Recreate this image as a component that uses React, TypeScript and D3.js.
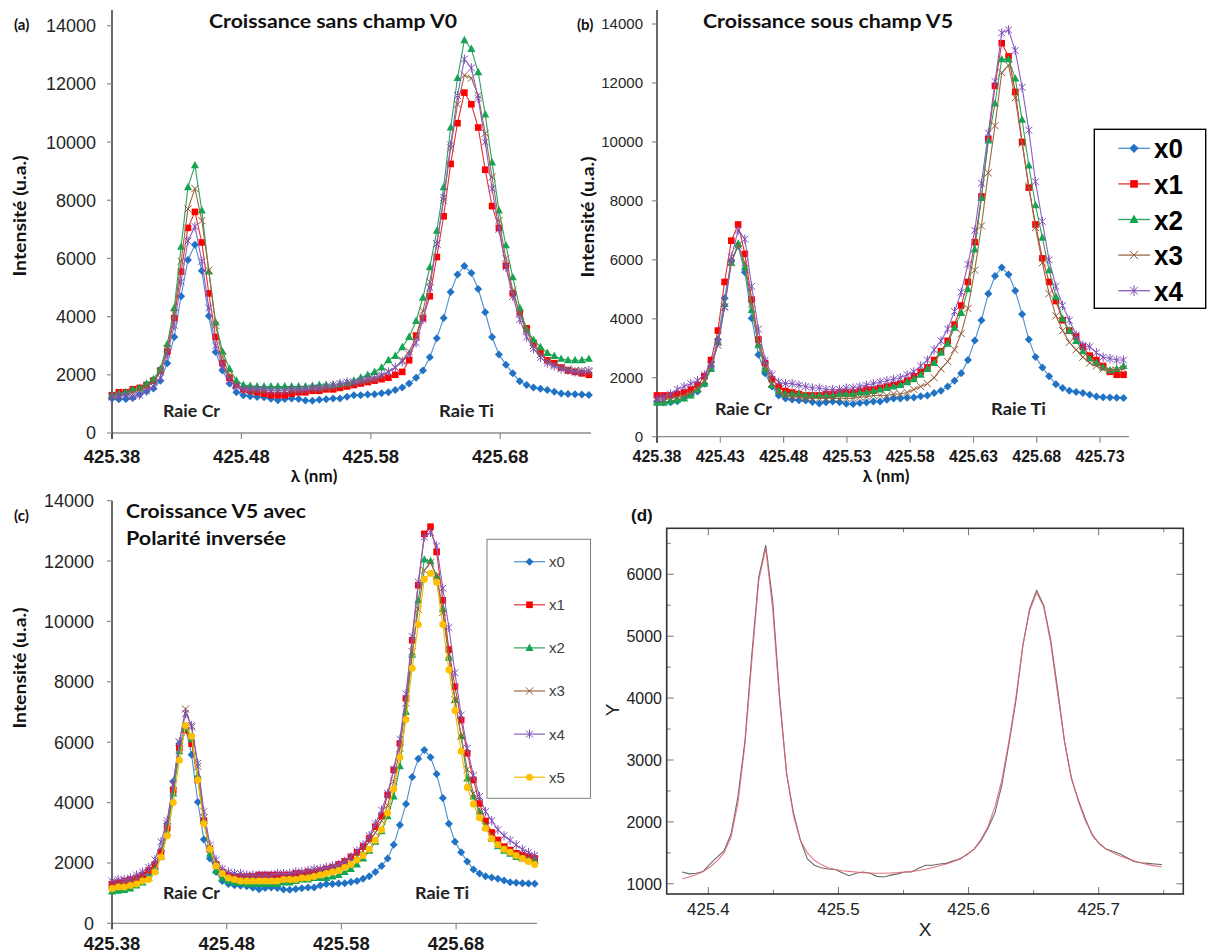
import React from 'react';
import * as d3 from 'd3';

// ---------- DATA ----------
const WAVELENGTH = [
  425.3800, 425.3853, 425.3907, 425.3960, 425.4014, 425.4067, 425.4120, 425.4174, 425.4227, 425.4281,
  425.4334, 425.4387, 425.4441, 425.4494, 425.4548, 425.4601, 425.4654, 425.4708, 425.4761, 425.4815,
  425.4868, 425.4921, 425.4975, 425.5028, 425.5082, 425.5135, 425.5188, 425.5242, 425.5295, 425.5349,
  425.5402, 425.5455, 425.5509, 425.5562, 425.5616, 425.5669, 425.5722, 425.5776, 425.5829, 425.5883,
  425.5936, 425.5989, 425.6043, 425.6096, 425.6150, 425.6203, 425.6256, 425.6310, 425.6363, 425.6417,
  425.6470, 425.6523, 425.6577, 425.6630, 425.6684, 425.6737, 425.6790, 425.6844, 425.6897, 425.6951,
  425.7004, 425.7057, 425.7111, 425.7164, 425.7218, 425.7271, 425.7324, 425.7378, 425.7431, 425.7485,
];

// reference spectrum x0 (same in every panel, also the measured curve of panel d)
const X0 = [
  1190, 1160, 1170, 1200, 1320, 1430, 1530, 1800, 2400, 3300,
  4700, 5950, 6470, 5580, 4020, 2780, 2150, 1700, 1400, 1300,
  1260, 1240, 1230, 1180, 1130, 1170, 1190, 1170, 1120, 1110,
  1140, 1160, 1190, 1190, 1250, 1300, 1300, 1320, 1330, 1370,
  1400, 1480, 1560, 1700, 1900, 2150, 2600, 3260, 3950, 4850,
  5450, 5740, 5500, 4950, 4150, 3300, 2700, 2350, 2050, 1780,
  1650, 1560, 1520, 1480, 1420, 1360, 1340, 1330, 1320, 1310,
];

// panel (a) Croissance sans champ V0
const A_X1 = [
  1300, 1400, 1400, 1500, 1550, 1650, 1800, 2150, 2800, 3950,
  5550, 7050, 7600, 6550, 4800, 3300, 2400, 1900, 1650, 1500,
  1450, 1400, 1350, 1300, 1300, 1300, 1350, 1400, 1400, 1450,
  1450, 1500, 1500, 1550, 1600, 1650, 1700, 1750, 1800, 1850,
  1900, 2000, 2100, 2500, 3350, 3950, 4700, 6050, 7450, 9250,
  10650, 11700, 11300, 10500, 9050, 7800, 7050, 5750, 4800, 4150,
  3600, 3100, 2800, 2500, 2400, 2250, 2150, 2100, 2050, 2000,
];
const A_X2 = [
  1300, 1350, 1400, 1500, 1550, 1700, 1850, 2200, 3050, 4300,
  6400, 8450, 9200, 7650, 5550, 3800, 2800, 2200, 1800, 1650,
  1620, 1600, 1600, 1600, 1600, 1600, 1600, 1600, 1600, 1620,
  1650, 1650, 1650, 1680, 1720, 1800, 1900, 2000, 2100, 2250,
  2500, 2650, 2950, 3300, 3850, 4650, 5700, 6950, 8450, 10500,
  12200, 13500, 13200, 12400, 10950, 9300, 7650, 6450, 5350, 4300,
  3550, 3200, 2950, 2750, 2650, 2550, 2500, 2500, 2500, 2550,
];
const A_X3 = [
  1250, 1300, 1300, 1400, 1500, 1600, 1750, 2100, 2900, 4100,
  5900, 7700, 8400, 7300, 5600, 3700, 2600, 2000, 1650, 1500,
  1450, 1450, 1450, 1450, 1450, 1450, 1450, 1450, 1500, 1500,
  1500, 1550, 1550, 1600, 1650, 1700, 1750, 1800, 1850, 1950,
  2100, 2250, 2500, 2800, 3300, 4200, 5200, 6500, 8000, 9800,
  11300, 12300, 12200, 11600, 10300, 8800, 7300, 6000, 4900, 4100,
  3500, 3000, 2700, 2500, 2350, 2250, 2200, 2150, 2150, 2100,
];
const A_X4 = [
  1250, 1250, 1300, 1250, 1300, 1450, 1600, 1900, 2700, 3700,
  5200, 6600, 7100, 5900, 4300, 3000, 2300, 1800, 1600, 1500,
  1500, 1500, 1500, 1450, 1450, 1450, 1500, 1500, 1500, 1550,
  1550, 1600, 1650, 1700, 1750, 1750, 1800, 1850, 1900, 2000,
  2100, 2250, 2450, 2700, 3100, 3900, 5000, 6500, 8100, 9900,
  11600, 12850, 12550, 11500, 10000, 8400, 7000, 5700, 4700, 3900,
  3300, 2900, 2600, 2400, 2300, 2200, 2150, 2100, 2100, 2150,
];

// panel (b) Croissance sous champ V5
const B_X1 = [
  1400, 1400, 1400, 1450, 1500, 1600, 1750, 2050, 2600, 3600,
  5250, 6650, 7200, 6200, 4650, 3300, 2500, 1950, 1700, 1550,
  1500, 1450, 1400, 1400, 1400, 1450, 1450, 1500, 1500, 1500,
  1550, 1600, 1600, 1650, 1700, 1750, 1800, 1900, 2050, 2200,
  2350, 2600, 2900, 3250, 3800, 4450, 5250, 6600, 8150, 10100,
  11900, 13350, 12900, 11700, 10000, 8450, 7200, 6050, 5250, 4600,
  3950, 3600, 3400, 3050, 2750, 2600, 2400, 2200, 2100, 2100,
];
const B_X2 = [
  1150, 1150, 1200, 1250, 1300, 1400, 1600, 1800, 2300, 3200,
  4500, 5900, 6550, 5750, 4300, 3100, 2300, 1750, 1550, 1450,
  1450, 1450, 1400, 1400, 1400, 1400, 1400, 1450, 1450, 1450,
  1500, 1500, 1550, 1600, 1650, 1700, 1750, 1850, 1950, 2100,
  2300, 2500, 2850, 3150, 3700, 4200, 5000, 6350, 8100, 10050,
  11300, 12800, 12800, 12150, 10750, 9200, 7850, 6750, 5650, 4750,
  4000, 3600, 3250, 2900, 2650, 2500, 2350, 2250, 2300, 2400,
];
const B_X3 = [
  1250, 1250, 1300, 1350, 1400, 1500, 1650, 1900, 2400, 3100,
  4400, 5900, 6500, 5900, 4500, 3200, 2400, 1800, 1500, 1400,
  1350, 1350, 1300, 1300, 1300, 1300, 1300, 1300, 1300, 1300,
  1350, 1350, 1400, 1400, 1400, 1450, 1450, 1500, 1600, 1700,
  1800, 2000, 2300, 2550, 2950, 3500, 4350, 5650, 7150, 8950,
  10550, 12350, 12600, 11500, 9950, 8500, 7100, 5900, 4850, 4100,
  3600, 3200, 2950, 2700, 2500, 2400, 2300, 2250, 2250, 2300,
];
const B_X4 = [
  1300, 1350, 1450, 1600, 1700, 1800, 1900, 2100, 2450, 3200,
  4400, 6100, 7000, 6700, 5100, 3650, 2600, 2100, 1850, 1800,
  1800, 1750, 1700, 1650, 1650, 1600, 1600, 1600, 1650, 1650,
  1700, 1750, 1800, 1850, 1900, 1950, 2000, 2100, 2200, 2400,
  2600, 2950, 3250, 3650, 4250, 4900, 5850, 7000, 8600, 10300,
  12050, 13700, 13800, 13100, 11850, 10400, 8650, 7300, 6000, 5100,
  4450, 3950, 3450, 3100, 3050, 2850, 2700, 2650, 2600, 2600,
];

// panel (c) Croissance V5 avec polarité inversée
const C_X1 = [
  1300, 1350, 1400, 1450, 1500, 1600, 1750, 1950, 2350, 3150,
  4400, 5800, 6400, 5950, 4750, 3400, 2450, 1950, 1700, 1600,
  1550, 1550, 1550, 1550, 1600, 1600, 1600, 1600, 1600, 1600,
  1650, 1650, 1700, 1700, 1750, 1800, 1850, 1950, 2050, 2200,
  2350, 2540, 2810, 3200, 3550, 4250, 5080, 5960, 7450, 9380,
  11200, 12900, 13140, 12300, 10700, 9070, 7840, 6730, 5630, 4750,
  3970, 3390, 3010, 2760, 2540, 2430, 2320, 2260, 2210, 2150,
];
const C_X2 = [
  1050, 1080, 1100, 1150, 1250, 1350, 1500, 1750, 2200, 3000,
  4300, 5700, 6450, 6100, 4900, 3400, 2300, 1750, 1500, 1400,
  1350, 1350, 1300, 1300, 1300, 1300, 1300, 1300, 1350, 1350,
  1400, 1450, 1450, 1500, 1500, 1500, 1550, 1600, 1700, 1800,
  1950, 2150, 2400, 2700, 3050, 3550, 4200, 5200, 7000, 8900,
  10700, 12050, 12000, 11500, 10400, 8800, 7400, 6200, 4800, 4200,
  3700, 3200, 2800, 2550, 2400, 2300, 2200, 2150, 2100, 2100,
];
const C_X3 = [
  1250, 1300, 1350, 1400, 1450, 1550, 1700, 1900, 2300, 3300,
  4600, 6000, 7100, 6500, 5200, 3500, 2500, 1900, 1650, 1550,
  1500, 1500, 1500, 1500, 1450, 1450, 1450, 1450, 1500, 1500,
  1500, 1550, 1600, 1650, 1700, 1750, 1800, 1850, 1950, 2050,
  2200, 2400, 2700, 3000, 3400, 3900, 4700, 5800, 7300, 9000,
  10400, 11700, 11950, 11500, 10300, 8900, 7400, 6200, 5100, 4300,
  3600, 3200, 2900, 2650, 2500, 2400, 2300, 2200, 2150, 2100,
];
const C_X4 = [
  1400, 1450, 1450, 1500, 1600, 1700, 1850, 2100, 2700, 3400,
  4600, 6000, 6950, 6550, 5300, 3700, 2600, 2100, 1800, 1700,
  1650, 1650, 1600, 1600, 1600, 1600, 1600, 1650, 1650, 1650,
  1700, 1700, 1750, 1800, 1800, 1850, 1900, 1950, 2050, 2200,
  2400, 2600, 2900, 3300, 3750, 4300, 5100, 6100, 7600, 9500,
  11300, 12800, 12950, 12500, 11100, 9800, 8300, 6900, 5800, 4900,
  4200, 3700, 3400, 3100, 2900, 2750, 2600, 2450, 2350, 2250,
];
const C_X5 = [
  1150, 1200, 1200, 1250, 1300, 1400, 1450, 1700, 2200, 2900,
  4000, 5400, 6550, 6200, 4750, 3300, 2450, 1900, 1650, 1500,
  1450, 1400, 1400, 1400, 1400, 1400, 1400, 1400, 1450, 1450,
  1450, 1500, 1500, 1550, 1600, 1650, 1700, 1750, 1850, 1950,
  2100, 2250, 2450, 2750, 3100, 3650, 4450, 5500, 6750, 8450,
  9900, 11400, 11600, 11300, 9900, 8400, 7050, 5700, 4500, 3950,
  3500, 3150, 2800, 2600, 2450, 2350, 2250, 2150, 2050, 1950,
];

// panel (d) fitted curve of x0
const D_FIT = [
  1080, 1110, 1150, 1200, 1270, 1370, 1500, 1750, 2300, 3250,
  4600, 5900, 6420, 5450, 3950, 2800, 2100, 1700, 1500, 1380,
  1310, 1260, 1230, 1210, 1200, 1190, 1180, 1175, 1170, 1170,
  1175, 1180, 1190, 1200, 1215, 1235, 1260, 1290, 1320, 1360,
  1410, 1470, 1560, 1720, 1930, 2250, 2680, 3300, 4000, 4850,
  5420, 5700, 5480, 4900, 4080, 3300, 2720, 2330, 2020, 1800,
  1650, 1560, 1500, 1450, 1410, 1370, 1340, 1310, 1290, 1270,
];

const Y_TICKS = [0, 2000, 4000, 6000, 8000, 10000, 12000, 14000];
const A_XTICKS = ['425.38', '425.48', '425.58', '425.68'];
const B_XTICKS = ['425.38', '425.43', '425.48', '425.53', '425.58', '425.63', '425.68', '425.73'];
const C_XTICKS = ['425.38', '425.48', '425.58', '425.68'];
const D_XTICKS = ['425.4', '425.5', '425.6', '425.7'];
const D_XMINOR = [425.45, 425.55, 425.65, 425.75];
const D_YTICKS = [1000, 2000, 3000, 4000, 5000, 6000];
const D_YMINOR = [1500, 2500, 3500, 4500, 5500, 6500];

// ---------- STYLES ----------
const STYLE: Record<string, { shape: string; marker: string; line: string }> = {
  x0: { shape: 'diamond', marker: '#1f72c4', line: '#4a8fd2' },
  x1: { shape: 'square', marker: '#ff0000', line: '#e53030' },
  x2: { shape: 'triangle', marker: '#13a552', line: '#2ca35e' },
  x3: { shape: 'cross', marker: '#8f5a36', line: '#9a6945' },
  x4: { shape: 'star', marker: '#7d4db6', line: '#8a5fc0' },
  x5: { shape: 'circle', marker: '#ffc000', line: '#f5b800' },
};

const CAL = "Lato, 'Open Sans', sans-serif";
const ARIAL = "'Liberation Sans', Arial, sans-serif";

function Marker({ shape, x, y, c, k = 1 }: any) {
  const r = 4 * k;
  switch (shape) {
    case 'diamond':
      return <path d={`M${x},${y - r}L${x + r},${y}L${x},${y + r}L${x - r},${y}Z`} fill={c} />;
    case 'square':
      return <rect x={x - 3.3 * k} y={y - 3.3 * k} width={6.6 * k} height={6.6 * k} fill={c} />;
    case 'triangle':
      return <path d={`M${x},${y - 4.4 * k}L${x + 4 * k},${y + 3 * k}L${x - 4 * k},${y + 3 * k}Z`} fill={c} />;
    case 'cross': {
      const s = 3.6 * k;
      return <path d={`M${x - s},${y - s}L${x + s},${y + s}M${x - s},${y + s}L${x + s},${y - s}`} stroke={c} strokeWidth={1} fill="none" />;
    }
    case 'star': {
      const s = 3.4 * k;
      return (
        <path
          d={`M${x - s},${y - s}L${x + s},${y + s}M${x - s},${y + s}L${x + s},${y - s}M${x},${y - 4.6 * k}L${x},${y + 4.6 * k}`}
          stroke={c}
          strokeWidth={1}
          fill="none"
        />
      );
    }
    default:
      return <circle cx={x} cy={y} r={3.5 * k} fill={c} />;
  }
}

function SeriesLayer({ xs, ys, name, values }: any) {
  const st = STYLE[name];
  const line = d3
    .line<number>()
    .x((_, i) => xs(WAVELENGTH[i]))
    .y((v) => ys(v));
  return (
    <g>
      <path d={line(values) || ''} fill="none" stroke={st.line} strokeWidth={1.1} />
      {values.map((v: number, i: number) => (
        <Marker key={i} shape={st.shape} x={xs(WAVELENGTH[i])} y={ys(v)} c={st.marker} />
      ))}
    </g>
  );
}

function ExcelPanel({ p }: any) {
  const { xs, ys, axisTop, axisRight, xTicks, yTickSize, yTickEnd, xTickSize, xTickBase, series } = p;
  const x0 = xs.range()[0];
  const yb = ys.range()[0];
  return (
    <g>
      <line x1={x0} x2={axisRight} y1={yb} y2={yb} stroke="#8c8c8c" strokeWidth={1.3} />
      {xTicks.map((t: string) => (
        <g key={t}>
          <line x1={xs(+t)} x2={xs(+t)} y1={yb} y2={yb + 6} stroke="#8c8c8c" strokeWidth={1.2} />
          <text x={xs(+t)} y={xTickBase} textAnchor="middle" fontFamily={ARIAL} fontWeight="bold" fontSize={xTickSize} fill="#1a1a1a">
            {t}
          </text>
        </g>
      ))}
      <line x1={x0} x2={x0} y1={axisTop} y2={yb + 6} stroke="#1a1a1a" strokeWidth={1.3} />
      {Y_TICKS.map((t) => (
        <g key={t}>
          <line x1={x0 - 5} x2={x0} y1={ys(t)} y2={ys(t)} stroke="#8c8c8c" strokeWidth={1.2} />
          <text x={yTickEnd} y={ys(t)} dy="0.36em" textAnchor="end" fontFamily={ARIAL} fontSize={yTickSize} fill="#262626">
            {t}
          </text>
        </g>
      ))}
      {series.map((s: any) => (
        <SeriesLayer key={s.name} xs={xs} ys={ys} name={s.name} values={s.values} />
      ))}
    </g>
  );
}

export default function App() {
  const PA = {
    xs: d3.scaleLinear().domain([425.38, 425.75]).range([112, 590.8]),
    ys: d3.scaleLinear().domain([0, 14000]).range([433, 25.7]),
    axisTop: 10,
    axisRight: 591,
    xTicks: A_XTICKS,
    yTickSize: 18,
    yTickEnd: 96,
    xTickSize: 18.5,
    xTickBase: 463,
    series: [
      { name: 'x0', values: X0 },
      { name: 'x1', values: A_X1 },
      { name: 'x2', values: A_X2 },
      { name: 'x3', values: A_X3 },
      { name: 'x4', values: A_X4 },
    ],
  };
  const PB = {
    xs: d3.scaleLinear().domain([425.38, 425.75]).range([657, 1125.4]),
    ys: d3.scaleLinear().domain([0, 14000]).range([436.7, 24]),
    axisTop: 10,
    axisRight: 1129,
    xTicks: B_XTICKS,
    yTickSize: 15,
    yTickEnd: 643,
    xTickSize: 16,
    xTickBase: 462,
    series: [
      { name: 'x0', values: X0 },
      { name: 'x1', values: B_X1 },
      { name: 'x2', values: B_X2 },
      { name: 'x3', values: B_X3 },
      { name: 'x4', values: B_X4 },
    ],
  };
  const PC = {
    xs: d3.scaleLinear().domain([425.38, 425.75]).range([112, 536.4]),
    ys: d3.scaleLinear().domain([0, 14000]).range([923.3, 500.7]),
    axisTop: 500.7,
    axisRight: 537,
    xTicks: C_XTICKS,
    yTickSize: 18,
    yTickEnd: 94,
    xTickSize: 18.5,
    xTickBase: 949.5,
    series: [
      { name: 'x0', values: X0 },
      { name: 'x1', values: C_X1 },
      { name: 'x2', values: C_X2 },
      { name: 'x3', values: C_X3 },
      { name: 'x4', values: C_X4 },
      { name: 'x5', values: C_X5 },
    ],
  };

  const dx = d3.scaleLinear().domain([425.368, 425.765]).range([666.7, 1183.3]);
  const dy = d3.scaleLinear().domain([835, 6743]).range([894, 528.3]);
  const dLine = d3
    .line<number>()
    .x((_, i) => dx(WAVELENGTH[i]))
    .y((v) => dy(v));

  const legendB = ['x0', 'x1', 'x2', 'x3', 'x4'];
  const legendC = ['x0', 'x1', 'x2', 'x3', 'x4', 'x5'];

  return (
    <svg width={1208} height={951} style={{ position: 'absolute', left: 0, top: 0, background: '#fff' }}>
      <rect width={1208} height={951} fill="#fff" />
      <ExcelPanel p={PA} />
      <ExcelPanel p={PB} />
      <ExcelPanel p={PC} />

      <text x={14} y={30} fontFamily={CAL} fontWeight="bold" fontSize={15} fill="#111">(a)</text>
      <text x={577} y={30} fontFamily={CAL} fontWeight="bold" fontSize={15} fill="#111">(b)</text>
      <text x={14} y={521} fontFamily={CAL} fontWeight="bold" fontSize={15} fill="#111">(c)</text>
      <text x={631} y={521} fontFamily={ARIAL} fontWeight="bold" fontSize={17} fill="#111">(d)</text>

      <text x={209} y={28} fontFamily={CAL} fontWeight="bold" fontSize={19} textLength={248} lengthAdjust="spacingAndGlyphs" fill="#111">
        Croissance sans champ V0
      </text>
      <text x={703} y={28} fontFamily={CAL} fontWeight="bold" fontSize={19} textLength={250} lengthAdjust="spacingAndGlyphs" fill="#111">
        Croissance sous champ V5
      </text>
      <text x={126} y={518} fontFamily={CAL} fontWeight="bold" fontSize={19} textLength={180} lengthAdjust="spacingAndGlyphs" fill="#111">
        Croissance V5 avec
      </text>
      <text x={126} y={545} fontFamily={CAL} fontWeight="bold" fontSize={19} textLength={160} lengthAdjust="spacingAndGlyphs" fill="#111">
        Polarité inversée
      </text>

      {[
        { t: 'Raie Cr', x: 163, y: 416.5, w: 57 },
        { t: 'Raie Ti', x: 439, y: 416.5, w: 55 },
        { t: 'Raie Cr', x: 715, y: 415, w: 57 },
        { t: 'Raie Ti', x: 991, y: 415, w: 55 },
        { t: 'Raie Cr', x: 163, y: 899, w: 57 },
        { t: 'Raie Ti', x: 415, y: 899, w: 54 },
      ].map((r, i) => (
        <text key={i} x={r.x} y={r.y} fontFamily={CAL} fontWeight="bold" fontSize={17.5} textLength={r.w} lengthAdjust="spacingAndGlyphs" fill="#222">
          {r.t}
        </text>
      ))}

      {[
        { x: 26, y: 216 },
        { x: 594, y: 217 },
        { x: 26, y: 668 },
      ].map((p, i) => (
        <text
          key={i}
          transform={`translate(${p.x},${p.y}) rotate(-90)`}
          textAnchor="middle"
          fontFamily={CAL}
          fontWeight="bold"
          fontSize={16.5}
          textLength={121}
          lengthAdjust="spacingAndGlyphs"
          fill="#111"
        >
          Intensité (u.a.)
        </text>
      ))}
      <text x={314} y={482} textAnchor="middle" fontFamily={CAL} fontWeight="bold" fontSize={17} fill="#111">λ (nm)</text>
      <text x={886} y={482} textAnchor="middle" fontFamily={CAL} fontWeight="bold" fontSize={17} fill="#111">λ (nm)</text>

      {/* legend b */}
      <rect x={1094.3} y={129.3} width={111.4} height={179} fill="#fff" stroke="#000" strokeWidth={1.4} />
      {legendB.map((n, i) => {
        const y = 148.3 + i * 35.6;
        const st = STYLE[n];
        return (
          <g key={n}>
            <line x1={1118.3} x2={1150} y1={y} y2={y} stroke={st.line} strokeWidth={1.3} />
            <Marker shape={st.shape} x={1134} y={y} c={st.marker} k={1.15} />
            <text x={1154} y={y} dy="0.36em" fontFamily={ARIAL} fontWeight="bold" fontSize={28} textLength={29} lengthAdjust="spacingAndGlyphs" fill="#000">
              {n}
            </text>
          </g>
        );
      })}

      {/* legend c */}
      <rect x={487} y={539.3} width={103.5} height={259} fill="#fff" stroke="#7f7f7f" strokeWidth={1} />
      {legendC.map((n, i) => {
        const y = 561.7 + i * 43.1;
        const st = STYLE[n];
        return (
          <g key={n}>
            <line x1={514} x2={545} y1={y} y2={y} stroke={st.line} strokeWidth={1.2} />
            <Marker shape={st.shape} x={529.5} y={y} c={st.marker} />
            <text x={549} y={y} dy="0.36em" fontFamily={ARIAL} fontSize={15} fill="#404040">
              {n}
            </text>
          </g>
        );
      })}

      {/* panel d */}
      <g>
        {D_XTICKS.map((t) => (
          <g key={t}>
            <line x1={dx(+t)} x2={dx(+t)} y1={894} y2={887} stroke="#777" strokeWidth={1} />
            <line x1={dx(+t)} x2={dx(+t)} y1={528.3} y2={535.3} stroke="#777" strokeWidth={1} />
            <text x={dx(+t)} y={915} textAnchor="middle" fontFamily={ARIAL} fontSize={17} fill="#222">
              {t}
            </text>
          </g>
        ))}
        {D_XMINOR.map((t) => (
          <g key={t}>
            <line x1={dx(t)} x2={dx(t)} y1={894} y2={890} stroke="#777" strokeWidth={1} />
            <line x1={dx(t)} x2={dx(t)} y1={528.3} y2={532.3} stroke="#777" strokeWidth={1} />
          </g>
        ))}
        {D_YTICKS.map((t) => (
          <g key={t}>
            <line x1={666.7} x2={673.7} y1={dy(t)} y2={dy(t)} stroke="#777" strokeWidth={1} />
            <line x1={1183.3} x2={1176.3} y1={dy(t)} y2={dy(t)} stroke="#777" strokeWidth={1} />
            <text x={662} y={dy(t)} dy="0.36em" textAnchor="end" fontFamily={ARIAL} fontSize={16} fill="#222">
              {t}
            </text>
          </g>
        ))}
        {D_YMINOR.map((t) => (
          <g key={t}>
            <line x1={666.7} x2={670.7} y1={dy(t)} y2={dy(t)} stroke="#777" strokeWidth={1} />
            <line x1={1183.3} x2={1179.3} y1={dy(t)} y2={dy(t)} stroke="#777" strokeWidth={1} />
          </g>
        ))}
        <path d={dLine(X0) || ''} fill="none" stroke="#6a6a6a" strokeWidth={1.1} />
        <path d={dLine(D_FIT) || ''} fill="none" stroke="#e0606c" strokeWidth={1.1} strokeOpacity={0.85} />
        <rect x={666.7} y={528.3} width={516.6} height={365.7} fill="none" stroke="#333" strokeWidth={1.6} />
        <text x={925} y={936} textAnchor="middle" fontFamily={ARIAL} fontSize={19} fill="#222">X</text>
        <text transform="translate(619,710) rotate(-90)" textAnchor="middle" fontFamily={ARIAL} fontSize={19} fill="#222">Y</text>
      </g>
    </svg>
  );
}
